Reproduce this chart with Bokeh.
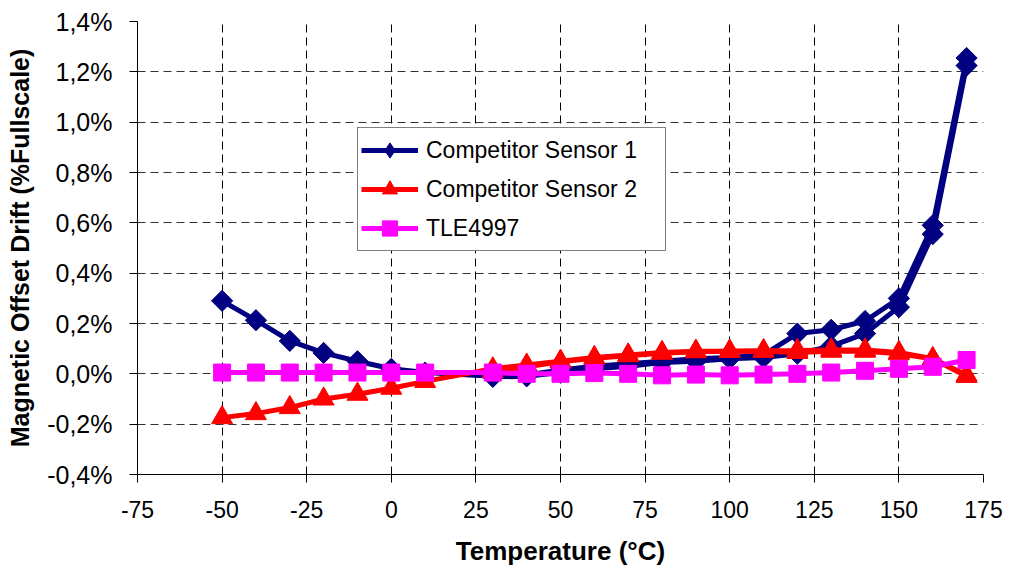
import math
from bokeh.plotting import figure
from bokeh.models import Range1d, FixedTicker, Legend, LegendItem
from bokeh.embed import file_html
from bokeh.resources import INLINE

# ---------------- data ----------------
temps_full = [-50, -40, -30, -20, -10, 0, 10, 30, 40, 50, 60, 70, 80, 90, 100, 110, 120, 130, 140, 150, 160, 170]
temps_back = [30, 40, 50, 60, 70, 80, 90, 100, 110, 120, 130, 140, 150, 160, 170]

sensor1_a = [0.29, 0.213, 0.131, 0.083, 0.05, 0.02, 0.005, -0.01, -0.005, 0.015, 0.03, 0.04, 0.05, 0.06,
             0.065, 0.075, 0.16, 0.175, 0.21, 0.30, 0.59, 1.255]
sensor1_b = [-0.012, -0.01, 0.005, 0.02, 0.03, 0.045, 0.05, 0.06, 0.065, 0.08, 0.11, 0.16, 0.265, 0.555, 1.225]

sensor2_a = [-0.174, -0.158, -0.134, -0.10, -0.081, -0.057, -0.03, 0.02, 0.035, 0.05, 0.065, 0.075, 0.085,
             0.09, 0.09, 0.09, 0.085, 0.09, 0.09, 0.08, 0.06, -0.01]
sensor2_b = [0.01, 0.028, 0.048, 0.062, 0.072, 0.082, 0.088, 0.09, 0.092, 0.093, 0.095, 0.095, 0.085, 0.06, -0.005]

tle4997 = [0.005, 0.005, 0.005, 0.005, 0.005, 0.005, 0.005, 0.005, 0.0, 0.0, 0.003, 0.0, -0.006, -0.003,
           -0.006, -0.003, 0.0, 0.005, 0.012, 0.02, 0.028, 0.055]

x_ticks = [-75, -50, -25, 0, 25, 50, 75, 100, 125, 150, 175]
x_labels = ["-75", "-50", "-25", "0", "25", "50", "75", "100", "125", "150", "175"]
y_ticks = [-0.4, -0.2, 0.0, 0.2, 0.4, 0.6, 0.8, 1.0, 1.2, 1.4]
y_labels = ["-0,4%", "-0,2%", "0,0%", "0,2%", "0,4%", "0,6%", "0,8%", "1,0%", "1,2%", "1,4%"]

names = ["Competitor Sensor 1", "Competitor Sensor 2", "TLE4997"]

# ---------------- figure ----------------
FONT = "Liberation Sans"
p = figure(width=1011, height=569, output_backend="svg", toolbar_location=None,
           x_range=Range1d(-75, 175), y_range=Range1d(-0.4, 1.4),
           min_border_left=137, min_border_right=28, min_border_top=21, min_border_bottom=95)
p.outline_line_color = None
p.background_fill_color = "white"
p.border_fill_color = "white"

p.xaxis.ticker = FixedTicker(ticks=x_ticks)
p.yaxis.ticker = FixedTicker(ticks=y_ticks)
p.xaxis.major_label_overrides = dict(zip(x_ticks, x_labels))
p.yaxis.major_label_overrides = dict(zip(y_ticks, y_labels))

for ax in (p.xaxis[0], p.yaxis[0]):
    ax.axis_line_color = "black"
    ax.axis_line_width = 1
    ax.major_tick_line_color = "black"
    ax.major_tick_out = 8
    ax.major_tick_in = 0
    ax.minor_tick_line_color = None
    ax.major_label_text_font = FONT
    ax.major_label_text_color = "black"
    ax.axis_label_text_font = FONT
    ax.axis_label_text_font_style = "bold"
    ax.axis_label_text_color = "black"

p.xaxis.major_label_text_font_size = "23px"
p.yaxis.major_label_text_font_size = "25px"
p.xaxis.axis_label_text_font_size = "26px"
p.yaxis.axis_label_text_font_size = "25px"

p.xaxis.axis_label = "Temperature (°C)"
p.yaxis.axis_label = "Magnetic Offset Drift (%Fullscale)"
p.xaxis.major_label_standoff = 18
p.yaxis.major_label_standoff = 17
p.xaxis.axis_label_standoff = 15
p.yaxis.axis_label_standoff = 10

p.xgrid.ticker = FixedTicker(ticks=x_ticks)
p.ygrid.ticker = FixedTicker(ticks=y_ticks)
p.xgrid.grid_line_color = "black"
p.xgrid.grid_line_dash = "8 5"
p.xgrid.grid_line_width = 1
p.ygrid.grid_line_color = "#333333"
p.ygrid.grid_line_dash = "8 5"
p.ygrid.grid_line_width = 1

BLUE = "#000080"
RED = "#FF0000"
PINK = "#FF00FF"
DIAMOND_ANGLE = math.pi / 4

# Sensor 1 (two sweeps)
l1a = p.line(temps_full, sensor1_a, line_color=BLUE, line_width=5)
m1a = p.scatter(temps_full, sensor1_a, marker="square", angle=DIAMOND_ANGLE, size=15,
                fill_color=BLUE, line_color=BLUE)
l1b = p.line(temps_back, sensor1_b, line_color=BLUE, line_width=5)
m1b = p.scatter(temps_back, sensor1_b, marker="square", angle=DIAMOND_ANGLE, size=15,
                fill_color=BLUE, line_color=BLUE)
# hidden diamond renderer used only to draw the legend symbol
leg_diamond = p.scatter(temps_full, sensor1_a, marker="diamond", size=15,
                        fill_color=BLUE, line_color=BLUE, visible=False)

# Sensor 2 (two sweeps)
l2a = p.line(temps_full, sensor2_a, line_color=RED, line_width=5)
m2a = p.scatter(temps_full, sensor2_a, marker="triangle", size=21, fill_color=RED, line_color=RED)
l2b = p.line(temps_back, sensor2_b, line_color=RED, line_width=5)
m2b = p.scatter(temps_back, sensor2_b, marker="triangle", size=21, fill_color=RED, line_color=RED)

# TLE4997
l3 = p.line(temps_full, tle4997, line_color=PINK, line_width=5)
m3 = p.scatter(temps_full, tle4997, marker="square", size=17, fill_color=PINK, line_color=PINK)

legend = Legend(items=[
    LegendItem(label=names[0], renderers=[l1a, leg_diamond]),
    LegendItem(label=names[1], renderers=[l2a, m2a]),
    LegendItem(label=names[2], renderers=[l3, m3]),
], location=(220, 223))
legend.border_line_color = "black"
legend.border_line_width = 1
legend.background_fill_color = "white"
legend.background_fill_alpha = 1
legend.label_text_font = FONT
legend.label_text_font_size = "23px"
legend.label_text_color = "black"
legend.glyph_width = 57
legend.glyph_height = 38
legend.label_height = 38
legend.label_width = 236
legend.spacing = 1
legend.padding = 3
legend.margin = 0
legend.label_standoff = 8
p.add_layout(legend)

open("out.html", "w").write(file_html(p, INLINE))
